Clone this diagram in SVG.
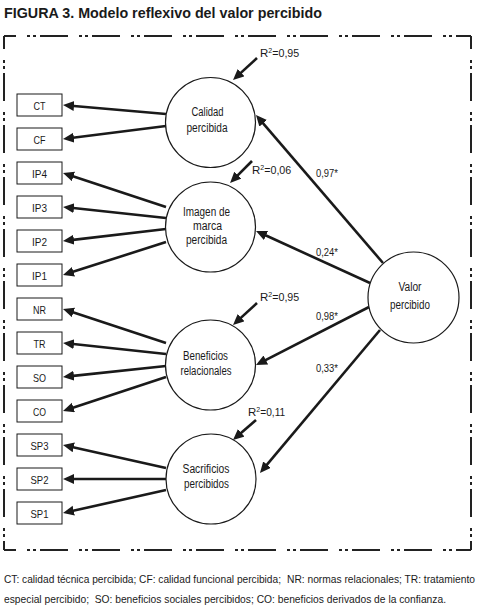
<svg xmlns="http://www.w3.org/2000/svg" width="479" height="611" viewBox="0 0 479 611">
<style>
text{font-family:"Liberation Sans",Arial,sans-serif;fill:#1a1a1a}
.t{font-size:15px;font-weight:bold}
.lbl{font-size:12px;text-anchor:middle}
.box text{font-size:11.5px;text-anchor:middle}
.coef{font-size:11.5px}
.cap{font-size:10.5px}
.frame{fill:none;stroke:#222;stroke-width:2;stroke-dasharray:28 11 3 3 3 4}
rect{fill:#fff;stroke:#1a1a1a;stroke-width:1}
circle{fill:#fff;stroke:#1a1a1a;stroke-width:1.2}
#connectors line{stroke:#1a1a1a;stroke-width:2.6;marker-end:url(#ah)}
</style>
<defs>
<marker id="ah" markerUnits="userSpaceOnUse" markerWidth="14" markerHeight="12" viewBox="0 0 14 12" refX="3" refY="5" orient="auto">
<path d="M0,0 L11,5 L0,10 Z" fill="#1a1a1a"/>
</marker>
</defs>
<rect width="479" height="611" style="fill:#fff;stroke:none"/>
<text class="t" x="4" y="18" textLength="318" lengthAdjust="spacingAndGlyphs">FIGURA 3. Modelo reflexivo del valor percibido</text>
<g id="frame">
<line class="frame" x1="4" y1="36" x2="471" y2="36" stroke-dashoffset="16"/>
<line class="frame" x1="4" y1="550" x2="471" y2="550" stroke-dashoffset="16"/>
<line class="frame" x1="4" y1="36" x2="4" y2="550" stroke-dashoffset="15"/>
<line class="frame" x1="471" y1="36" x2="471" y2="550" stroke-dashoffset="15"/>
</g>
<g id="connectors">
<line x1="166" y1="114" x2="71" y2="105.7"/>
<line x1="166" y1="126" x2="70.9" y2="138"/>
<line x1="166" y1="207" x2="70.6" y2="175.5"/>
<line x1="166" y1="218" x2="71" y2="207.8"/>
<line x1="166" y1="229" x2="70.9" y2="240.1"/>
<line x1="166" y1="242" x2="70.6" y2="272.6"/>
<line x1="166" y1="343" x2="70.6" y2="311.5"/>
<line x1="166" y1="354" x2="71" y2="343.8"/>
<line x1="166" y1="366" x2="70.9" y2="376.1"/>
<line x1="166" y1="377" x2="70.6" y2="408.5"/>
<line x1="166" y1="468" x2="70.8" y2="446.7"/>
<line x1="166" y1="479" x2="71" y2="479"/>
<line x1="166" y1="490" x2="70.8" y2="511.3"/>
<line x1="383" y1="263" x2="261.2" y2="121.1"/>
<line x1="370" y1="283" x2="263.3" y2="234.3"/>
<line x1="369" y1="307" x2="263.1" y2="361.3"/>
<line x1="380" y1="330" x2="265.1" y2="466.9"/>
<line x1="257" y1="58" x2="238.9" y2="74.6"/>
<line x1="252" y1="161" x2="235.7" y2="177.3"/>
<line x1="257" y1="303" x2="238.9" y2="319.6"/>
<line x1="256" y1="420" x2="239" y2="434.8"/>
</g>
<g id="CT" class="box"><rect x="17" y="94" width="45" height="22"/><text x="39.5" y="109.5" textLength="12" lengthAdjust="spacingAndGlyphs">CT</text></g>
<g id="CF" class="box"><rect x="17" y="128" width="45" height="22"/><text x="39.5" y="143.5" textLength="12" lengthAdjust="spacingAndGlyphs">CF</text></g>
<g id="IP4" class="box"><rect x="17" y="162" width="45" height="22"/><text x="39.5" y="177.5" textLength="15" lengthAdjust="spacingAndGlyphs">IP4</text></g>
<g id="IP3" class="box"><rect x="17" y="196" width="45" height="22"/><text x="39.5" y="211.5" textLength="15" lengthAdjust="spacingAndGlyphs">IP3</text></g>
<g id="IP2" class="box"><rect x="17" y="230" width="45" height="22"/><text x="39.5" y="245.5" textLength="15" lengthAdjust="spacingAndGlyphs">IP2</text></g>
<g id="IP1" class="box"><rect x="17" y="264" width="45" height="22"/><text x="39.5" y="279.5" textLength="15" lengthAdjust="spacingAndGlyphs">IP1</text></g>
<g id="NR" class="box"><rect x="17" y="298" width="45" height="22"/><text x="39.5" y="313.5" textLength="13" lengthAdjust="spacingAndGlyphs">NR</text></g>
<g id="TR" class="box"><rect x="17" y="332" width="45" height="22"/><text x="39.5" y="347.5" textLength="12" lengthAdjust="spacingAndGlyphs">TR</text></g>
<g id="SO" class="box"><rect x="17" y="366" width="45" height="22"/><text x="39.5" y="381.5" textLength="13" lengthAdjust="spacingAndGlyphs">SO</text></g>
<g id="CO" class="box"><rect x="17" y="400" width="45" height="22"/><text x="39.5" y="415.5" textLength="13" lengthAdjust="spacingAndGlyphs">CO</text></g>
<g id="SP3" class="box"><rect x="17" y="434" width="45" height="22"/><text x="39.5" y="449.5" textLength="18" lengthAdjust="spacingAndGlyphs">SP3</text></g>
<g id="SP2" class="box"><rect x="17" y="468" width="45" height="22"/><text x="39.5" y="483.5" textLength="18" lengthAdjust="spacingAndGlyphs">SP2</text></g>
<g id="SP1" class="box"><rect x="17" y="502" width="45" height="22"/><text x="39.5" y="517.5" textLength="18" lengthAdjust="spacingAndGlyphs">SP1</text></g>
<g id="calidad"><circle cx="210.5" cy="122.5" r="45"/><text class="lbl" x="207.5" y="116" textLength="32" lengthAdjust="spacingAndGlyphs">Calidad</text><text class="lbl" x="207" y="132" textLength="41" lengthAdjust="spacingAndGlyphs">percibida</text></g>
<g id="imagen"><circle cx="210.5" cy="227" r="45"/><text class="lbl" x="206.5" y="215.5" textLength="47" lengthAdjust="spacingAndGlyphs">Imagen de</text><text class="lbl" x="207.5" y="229.5" textLength="29" lengthAdjust="spacingAndGlyphs">marca</text><text class="lbl" x="206.5" y="244" textLength="41" lengthAdjust="spacingAndGlyphs">percibida</text></g>
<g id="beneficios"><circle cx="210.5" cy="365" r="45"/><text class="lbl" x="205.5" y="360" textLength="45" lengthAdjust="spacingAndGlyphs">Beneficios</text><text class="lbl" x="206" y="374.5" textLength="51" lengthAdjust="spacingAndGlyphs">relacionales</text></g>
<g id="sacrificios"><circle cx="211" cy="479" r="45"/><text class="lbl" x="206" y="473" textLength="47" lengthAdjust="spacingAndGlyphs">Sacrificios</text><text class="lbl" x="206.5" y="488" textLength="45" lengthAdjust="spacingAndGlyphs">percibidos</text></g>
<g id="valor"><circle cx="413.5" cy="297.5" r="45.5"/><text class="lbl" x="410" y="291" textLength="23" lengthAdjust="spacingAndGlyphs">Valor</text><text class="lbl" x="410" y="309" textLength="40" lengthAdjust="spacingAndGlyphs">percibido</text></g>
<g id="labels">
<text class="coef" x="260" y="57">R<tspan font-size="7" dy="-4">2</tspan><tspan dy="4" textLength="27" lengthAdjust="spacingAndGlyphs">=0,95</tspan></text>
<text class="coef" x="252" y="174">R<tspan font-size="7" dy="-4">2</tspan><tspan dy="4" textLength="27" lengthAdjust="spacingAndGlyphs">=0,06</tspan></text>
<text class="coef" x="260" y="301">R<tspan font-size="7" dy="-4">2</tspan><tspan dy="4" textLength="27" lengthAdjust="spacingAndGlyphs">=0,95</tspan></text>
<text class="coef" x="248" y="416">R<tspan font-size="7" dy="-4">2</tspan><tspan dy="4" textLength="25" lengthAdjust="spacingAndGlyphs">=0,11</tspan></text>
<text class="coef" x="316" y="177" textLength="22" lengthAdjust="spacingAndGlyphs">0,97*</text>
<text class="coef" x="316" y="255.5" textLength="22" lengthAdjust="spacingAndGlyphs">0,24*</text>
<text class="coef" x="316" y="319.5" textLength="22" lengthAdjust="spacingAndGlyphs">0,98*</text>
<text class="coef" x="316" y="372" textLength="22" lengthAdjust="spacingAndGlyphs">0,33*</text>
</g>
<g id="caption">
<text class="cap" x="4" y="583" textLength="277" lengthAdjust="spacingAndGlyphs">CT: calidad técnica percibida; CF: calidad funcional percibida;</text>
<text class="cap" x="287" y="583" textLength="188" lengthAdjust="spacingAndGlyphs">NR: normas relacionales; TR: tratamiento</text>
<text class="cap" x="4" y="603" textLength="442" lengthAdjust="spacingAndGlyphs" xml:space="preserve">especial percibido;  SO: beneficios sociales percibidos; CO: beneficios derivados de la confianza.</text>
</g>
</svg>
